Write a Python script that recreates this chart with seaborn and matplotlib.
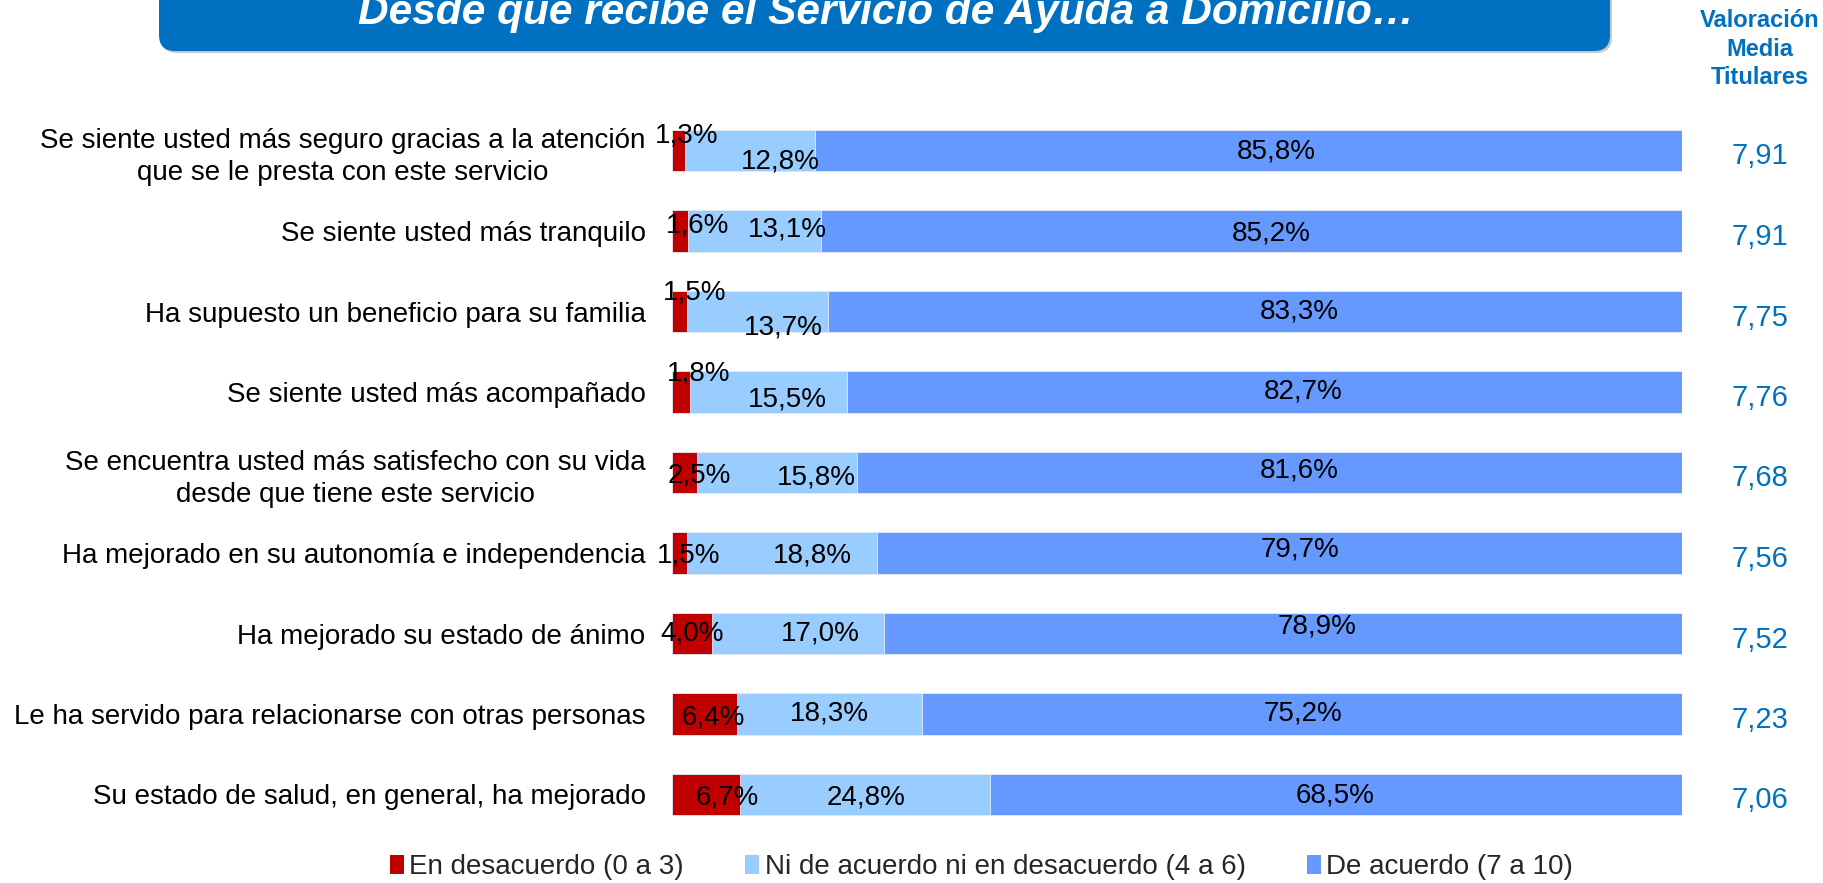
import pandas as pd
import matplotlib
matplotlib.use("Agg")
import matplotlib.pyplot as plt
import seaborn as sns
from matplotlib.patches import FancyBboxPatch, Patch
from matplotlib.transforms import blended_transform_factory

# --- data ---
categories = [
    "Se siente usted más seguro gracias a la atención\nque se le presta con este servicio",
    "Se siente usted más tranquilo",
    "Ha supuesto un beneficio para su familia",
    "Se siente usted más acompañado",
    "Se encuentra usted más satisfecho con su vida\ndesde que tiene este servicio",
    "Ha mejorado en su autonomía e independencia",
    "Ha mejorado su estado de ánimo",
    "Le ha servido para relacionarse con otras personas",
    "Su estado de salud, en general, ha mejorado",
]
desacuerdo = [1.3, 1.6, 1.5, 1.8, 2.5, 1.5, 4.0, 6.4, 6.7]
neutral = [12.8, 13.1, 13.7, 15.5, 15.8, 18.8, 17.0, 18.3, 24.8]
acuerdo = [85.8, 85.2, 83.3, 82.7, 81.6, 79.7, 78.9, 75.2, 68.5]
valoracion = ["7,91", "7,91", "7,75", "7,76", "7,68", "7,56", "7,52", "7,23", "7,06"]
series_names = ["En desacuerdo (0 a 3)",
                "Ni de acuerdo ni en desacuerdo (4 a 6)",
                "De acuerdo (7 a 10)"]
colors = ["#C00000", "#99CCFF", "#6699FF"]
azul = "#0070C0"

# label nudges in pixels (dx right, dy down), copies the uneven placement
red_dx = [8, 17, 15, 18, 15, 9, 0, 9, 21]
red_dy = [-15, -6, -19, -18, 3, 2, 0, 4, 3]
mid_dx = [30, 33, 26, 19, 39, 30, 22, 0, 1]
mid_dy = [11, -1, 16, 7, 5, 2, 0, -1, 3]
acu_dx = [28, 20, 44, 39, 30, 20, 34, 1, -1]
acu_dy = [1, 2, 0, 0, -2, -3, -7, -1, 1]

sns.set_theme(style="white")
plt.rcParams["font.family"] = ["Liberation Sans", "DejaVu Sans"]

df = pd.DataFrame({"cat": categories, "d": desacuerdo, "n": neutral, "a": acuerdo})
total = df[["d", "n", "a"]].sum(axis=1)
df["c1"] = df["d"] / total * 100
df["c2"] = (df["d"] + df["n"]) / total * 100
df["c3"] = (df["d"] + df["n"] + df["a"]) / total * 100

W, H = 1823, 883
fig = plt.figure(figsize=(W / 100, H / 100), dpi=100)
ax = fig.add_axes([672 / W, 1 - 834.75 / H, 1010 / W, 724.5 / H])

# stacked bars: draw cumulative totals back to front
for col, c in zip(["c3", "c2", "c1"], colors[::-1]):
    sns.barplot(data=df, y="cat", x=col, color=c, orient="h", width=0.51,
                saturation=1, ax=ax, edgecolor="#E6ECF5", linewidth=0.6)

ax.set_xlim(0, 100)
ax.set_ylim(8.5, -0.5)
ax.set_xlabel("")
ax.set_ylabel("")
ax.set_xticks([])
sns.despine(ax=ax, left=True, bottom=True)
ax.tick_params(axis="y", length=0, pad=19)
for lbl in ax.get_yticklabels():
    lbl.set_fontsize(20)
    lbl.set_multialignment("center")
    lbl.set_linespacing(1.3)
    lbl.set_color("black")

def fmt(v):
    return f"{v:.1f}".replace(".", ",") + "%"

k = 0.72  # px -> points at 100 dpi
for i in range(len(categories)):
    segs = [
        (df["c1"][i] / 2, desacuerdo[i], red_dx[i], red_dy[i]),
        ((df["c1"][i] + df["c2"][i]) / 2, neutral[i], mid_dx[i], mid_dy[i]),
        ((df["c2"][i] + df["c3"][i]) / 2, acuerdo[i], acu_dx[i], acu_dy[i]),
    ]
    for xc, v, dx, dy in segs:
        ax.annotate(fmt(v), xy=(xc, i), xytext=(dx * k, -dy * k),
                    textcoords="offset points", ha="center", va="center",
                    fontsize=20, color="black", annotation_clip=False)

# valoracion media column
tr = blended_transform_factory(fig.transFigure, ax.transData)
for i, v in enumerate(valoracion):
    ax.annotate(v, xy=(1760 / W, i), xycoords=tr, xytext=(0, -6 * k),
                textcoords="offset points", ha="center", va="center",
                fontsize=21, color=azul, annotation_clip=False)
fig.text(1760 / W, 1 - 49 / H, "Valoración\nMedia\nTitulares", ha="center",
         va="center", fontsize=17, fontweight="bold", color=azul, linespacing=1.3)

# title banner
r = 0.16
shadow = FancyBboxPatch((1.61, 8.30), 14.51, 1.2,
                        boxstyle=f"round,pad=0,rounding_size={r}",
                        transform=fig.dpi_scale_trans, fc="#C8C8C8", ec="none", zorder=0)
box = FancyBboxPatch((1.59, 8.32), 14.51, 1.2,
                     boxstyle=f"round,pad=0,rounding_size={r}",
                     transform=fig.dpi_scale_trans, fc=azul, ec="none", zorder=1)
fig.patches.extend([shadow, box])
fig.text(886 / W, 1 - 24 / H, "Desde que recibe el Servicio de Ayuda a Domicilio…",
         ha="center", va="baseline", fontsize=30.5, fontweight="bold",
         fontstyle="italic", color="white", zorder=2)

# legend
handles = [Patch(facecolor=c, edgecolor="none") for c in colors]
fig.legend(handles, series_names, loc="center left",
           bbox_to_anchor=(390 / W, 1 - 867 / H), ncol=3, frameon=False,
           fontsize=20, handlelength=0.5, handleheight=0.7, handletextpad=0.2,
           columnspacing=2.2, borderpad=0, borderaxespad=0)

fig.savefig("out.png", dpi=100)
